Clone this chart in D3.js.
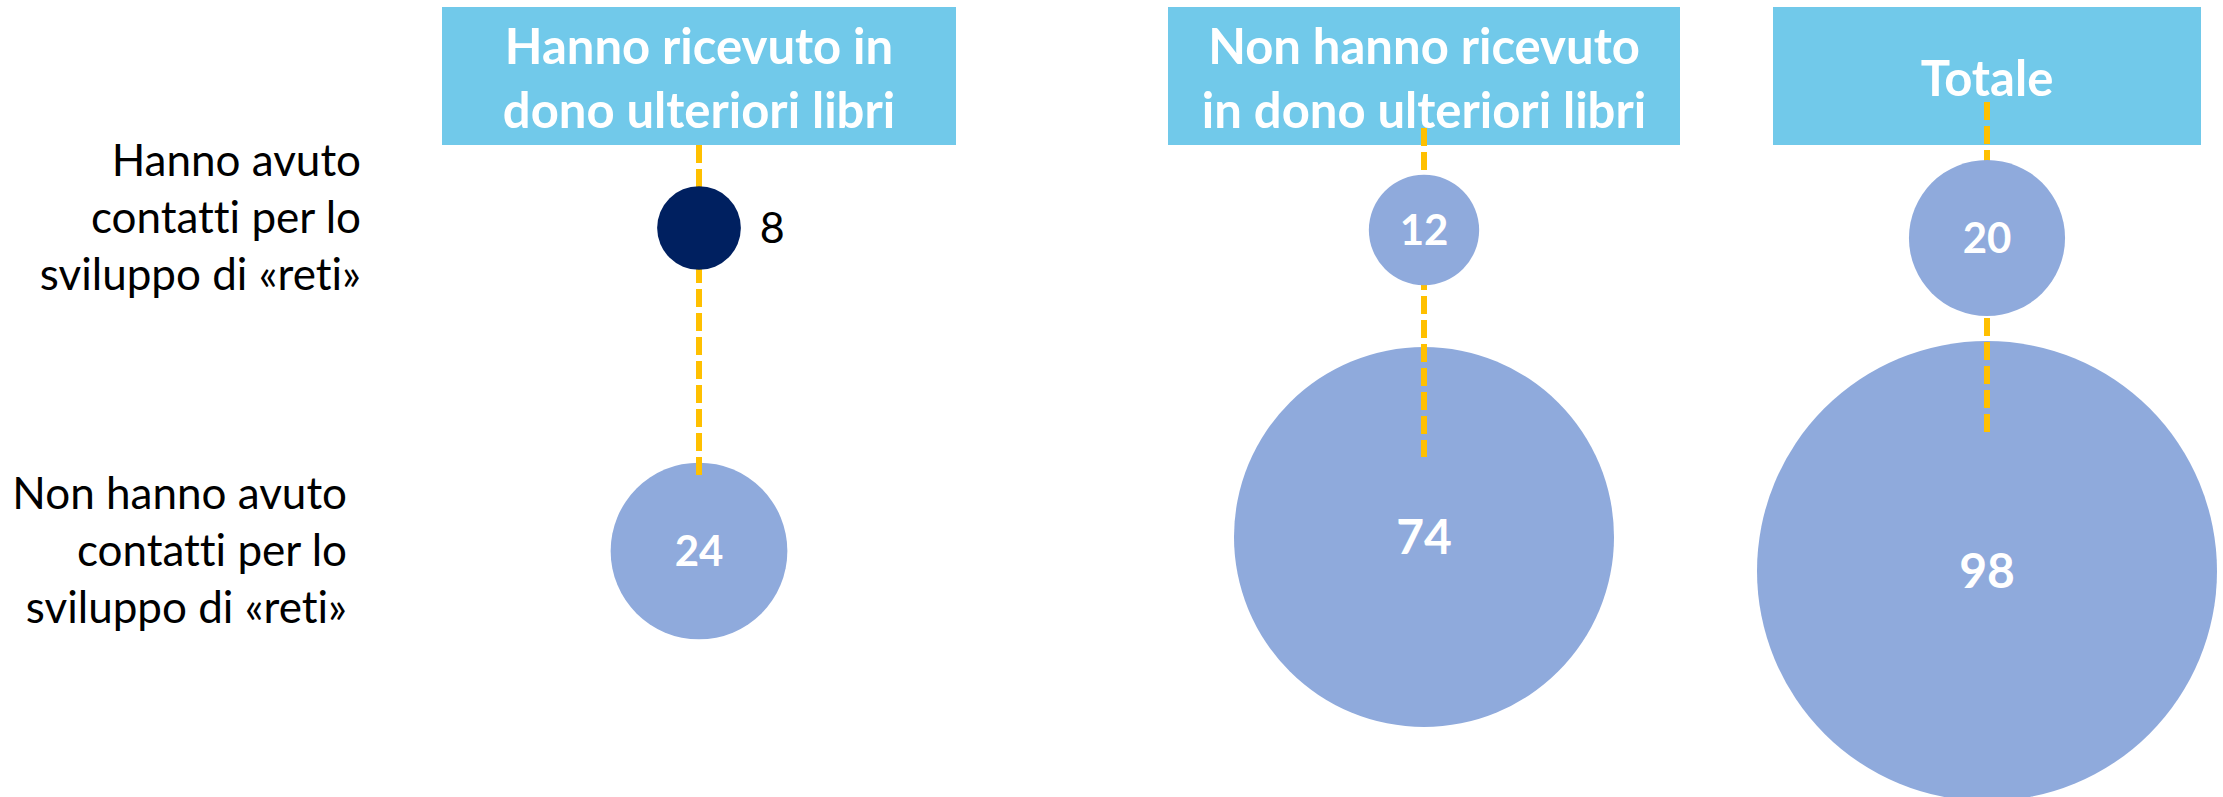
<!DOCTYPE html>
<html>
<head>
<meta charset="utf-8">
<script src="https://cdn.jsdelivr.net/npm/d3@7"></script>
<style>
  html, body { margin: 0; padding: 0; background: #fff; }
  svg { display: block; font-family: Lato, "Liberation Sans", sans-serif; font-variant-ligatures: none; }
</style>
</head>
<body>
<svg id="chart" width="2223" height="797"></svg>
<script>
// categories
const columns = ["ricevuto", "nonRicevuto", "totale"];
const columnTitles = [
    ["Hanno ricevuto in", "dono ulteriori libri"],
    ["Non hanno ricevuto", "in dono ulteriori libri"],
    ["Totale"]
];
const rows = ["contatti", "noContatti"];
const rowTitles = [
    ["Hanno avuto", "contatti per lo", "sviluppo di «reti»"],
    ["Non hanno avuto", "contatti per lo", "sviluppo di «reti»"]
];
// series values (one per row, in column order)
const conContatti = [8, 12, 20];
const senzaContatti = [24, 74, 98];

// the one highlighted bubble
const highlight = { column: "ricevuto", row: "contatti" };

// layout of every small panel (they are separate charts in the original)
const panelLayout = [
    { boxW: 514, rowY: [228, 551], line: [145, 476] },
    { boxW: 512, rowY: [230, 537], line: [128, 457] },
    { boxW: 428, rowY: [238, 571], line: [102, 432] }
];

const svg = d3.select("#chart");

const x = d3.scaleOrdinal().domain(columns).range([699, 1424, 1987]);
const r = d3.scalePow().exponent(0.68).domain([0, 98]).range([0, 230]);
const yScales = panelLayout.map(p => d3.scalePoint().domain(rows).range(p.rowY));

const cells = [];
columns.forEach((c, i) => {
    cells.push({ col: c, ci: i, row: rows[0], value: conContatti[i] });
    cells.push({ col: c, ci: i, row: rows[1], value: senzaContatti[i] });
});
const isHi = d => d.col === highlight.column && d.row === highlight.row;
const labelSize = d => isHi(d) ? 43 : (r(d.value) > 150 ? 48 : 42);

// header boxes
const head = svg.append("g").selectAll("g").data(columns).join("g");
head.append("rect")
    .attr("x", (c, i) => x(c) - panelLayout[i].boxW / 2)
    .attr("y", 7)
    .attr("width", (c, i) => panelLayout[i].boxW)
    .attr("height", 138)
    .attr("fill", "#71C9EA");
head.each(function(c, i) {
    let lines = columnTitles[i];
    d3.select(this).selectAll("text").data(lines).join("text")
        .attr("x", x(c))
        .attr("y", (l, j) => 96 + (j - (lines.length - 1) / 2) * 64)
        .attr("text-anchor", "middle")
        .attr("fill", "#fff")
        .attr("font-weight", 700)
        .attr("font-size", 49)
        .text(l => l);
});

// row labels on the left
const rowLabelY = [233, 566];
const rowLabelX = [361, 347];
rows.forEach((rw, i) => {
    svg.append("g").selectAll("text").data(rowTitles[i]).join("text")
        .attr("x", rowLabelX[i])
        .attr("y", (l, j) => rowLabelY[i] + (j - 1) * 57)
        .attr("text-anchor", "end")
        .attr("fill", "#000")
        .attr("font-size", 44)
        .text(l => l);
});

function drawBubbles(data) {
    let g = svg.append("g");
    g.selectAll("circle").data(data).join("circle")
        .attr("cx", d => x(d.col))
        .attr("cy", d => yScales[d.ci](d.row))
        .attr("r", d => r(d.value))
        .attr("fill", d => isHi(d) ? "#002060" : "#8FAADC");
    g.selectAll("text").data(data).join("text")
        .attr("x", d => isHi(d) ? x(d.col) + r(d.value) + 19 : x(d.col))
        .attr("y", d => yScales[d.ci](d.row))
        .attr("dy", d => labelSize(d) * 0.36)
        .attr("text-anchor", d => isHi(d) ? "start" : "middle")
        .attr("fill", d => isHi(d) ? "#000" : "#fff")
        .attr("font-weight", d => isHi(d) ? 400 : 700)
        .attr("font-size", labelSize)
        .text(d => d.value);
}

// big bubbles under the dashed guide, small ones above it
drawBubbles(cells.filter(d => d.row === rows[1]));

svg.append("g").selectAll("line").data(columns).join("line")
    .attr("x1", c => x(c)).attr("x2", c => x(c))
    .attr("y1", (c, i) => panelLayout[i].line[0])
    .attr("y2", (c, i) => panelLayout[i].line[1])
    .attr("stroke", "#FFC000")
    .attr("stroke-width", 6)
    .attr("stroke-dasharray", "18,6");

drawBubbles(cells.filter(d => d.row === rows[0]));
</script>
</body>
</html>
